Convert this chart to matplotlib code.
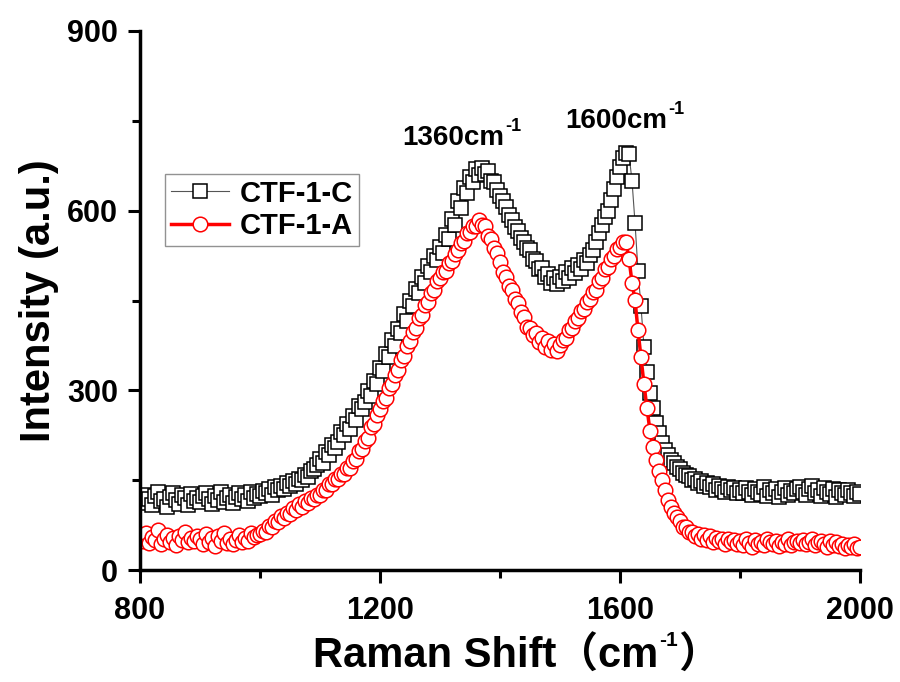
import numpy as np
import matplotlib
matplotlib.use("Agg")
import matplotlib.pyplot as plt
from matplotlib.ticker import MultipleLocator

plt.rcParams['font.family'] = ['Liberation Sans', 'Noto Sans CJK SC', 'DejaVu Sans']
plt.rcParams['font.weight'] = 'bold'

# Raman shift axis (cm^-1), 5 cm^-1 steps
shift = np.arange(800, 2001, 5)

# CTF-1-C intensity
ctf_c = [
    120, 112, 126, 118, 108, 124, 130, 115, 119, 106, 122, 128, 117, 111, 125, 120, 109, 127, 116, 121,
    113, 124, 129, 119, 110, 123, 117, 131, 114, 120, 126, 112, 122, 128, 118, 125, 115, 130, 121, 127,
    124, 132, 128, 135, 126, 138, 133, 140, 136, 145, 141, 148, 144, 152, 150, 158, 156, 165, 168, 176,
    186, 178, 197, 192, 209, 203, 214, 231, 226, 243, 236, 257, 250, 274, 268, 281, 299, 290, 316, 310,
    338, 332, 360, 356, 384, 374, 402, 396, 428, 416, 450, 440, 470, 462, 490, 480, 508, 498, 524, 518,
    540, 530, 560, 552, 586, 576, 616, 604, 638, 630, 656, 648, 670, 660, 672, 662, 666, 650, 648, 634,
    625, 616, 606, 592, 584, 572, 566, 554, 548, 538, 534, 520, 516, 502, 504, 490, 494, 480, 488, 478,
    490, 482, 498, 488, 504, 496, 510, 502, 518, 512, 526, 534, 548, 562, 576, 590, 600, 618, 636, 656,
    673, 688, 697, 694, 650, 580, 500, 440, 372, 330, 295, 270, 245, 228, 212, 200, 192, 184, 178, 172,
    168, 162, 158, 157, 150, 152, 145, 149, 140, 146, 138, 143, 134, 141, 136, 130, 139, 133, 137, 129,
    134, 128, 137, 131, 125, 136, 130, 127, 138, 124, 133, 129, 135, 122, 131, 137, 126, 132, 128, 136,
    139, 130, 126, 135, 141, 128, 133, 124, 137, 131, 127, 136, 122, 134, 129, 125, 133, 128, 124, 131,
    127,
]

# CTF-1-A intensity
ctf_a = [
    58, 48, 62, 45, 55, 50, 66, 44, 52, 59, 47, 54, 41, 57, 50, 63, 46, 53, 49, 56,
    51, 44, 60, 47, 54, 40, 57, 49, 62, 45, 52, 43, 50, 58, 46, 53, 48, 61, 55, 58,
    60, 65, 63, 74, 72, 82, 80, 90, 86, 96, 94, 104, 100, 110, 106, 116, 112, 120, 118, 126,
    126, 134, 134, 144, 144, 152, 152, 160, 160, 170, 170, 182, 186, 198, 202, 216, 220, 238, 244, 258,
    268, 282, 288, 304, 310, 326, 334, 350, 358, 374, 382, 398, 404, 420, 426, 442, 448, 462, 468, 482,
    488, 498, 500, 512, 516, 528, 534, 546, 550, 562, 564, 574, 574, 584, 576, 574, 558, 552, 538, 530,
    514, 498, 490, 474, 468, 452, 446, 430, 422, 406, 404, 392, 396, 380, 388, 372, 382, 368, 378, 366,
    376, 384, 388, 400, 404, 416, 420, 432, 436, 448, 452, 464, 468, 482, 488, 502, 506, 520, 524, 536,
    540, 548, 548, 520, 480, 451, 400, 355, 310, 270, 232, 205, 184, 166, 150, 134, 117, 106, 95, 88,
    82, 72, 71, 63, 64, 57, 60, 52, 58, 50, 56, 47, 54, 49, 52, 44, 51, 46, 50, 43,
    48, 42, 51, 45, 39, 50, 44, 47, 41, 52, 46, 43, 49, 40, 47, 44, 51, 42, 46, 48,
    45, 50, 43, 47, 52, 41, 46, 49, 44, 38, 48, 42, 46, 40, 44, 37, 42, 39, 43, 36,
    38,
]

series_names = ["CTF-1-C", "CTF-1-A"]
# peak annotations: (text, position in data units)
peak_labels = [("1360cm", 1237, 710), ("1600cm", 1508, 738)]

W, H = 900, 682
fig = plt.figure(figsize=(W / 100, H / 100), dpi=100)
ax = fig.add_axes([140 / W, 1 - 570 / H, 720 / W, 539 / H])

ax.plot(shift, ctf_c, color='#555555', lw=0.8, marker='s', ms=9.5,
        mfc='white', mec='black', mew=1.1, label=series_names[0])
ax.plot(shift, ctf_a, color='red', lw=2.5, marker='o', ms=10.5,
        mfc='white', mec='red', mew=1.1, label=series_names[1])

ax.set_xlim(800, 2000)
ax.set_ylim(0, 900)
ax.xaxis.set_major_locator(MultipleLocator(400))
ax.xaxis.set_minor_locator(MultipleLocator(200))
ax.yaxis.set_major_locator(MultipleLocator(300))
ax.yaxis.set_minor_locator(MultipleLocator(150))

for side in ('top', 'right'):
    ax.spines[side].set_visible(False)
for side in ('left', 'bottom'):
    ax.spines[side].set_linewidth(2.5)

ax.tick_params(which='major', direction='out', length=9, width=2.2, labelsize=22)
ax.tick_params(which='minor', direction='out', length=6, width=2.2)
ax.tick_params(axis='x', which='major', pad=10)
ax.tick_params(axis='y', which='major', pad=7)
for lbl in ax.get_xticklabels() + ax.get_yticklabels():
    lbl.set_fontweight('bold')

ax.set_ylabel("Intensity (a.u.)", fontsize=30, fontweight='bold')
ax.yaxis.set_label_coords(-0.112, 0.5)

leg = ax.legend(loc='upper left', bbox_to_anchor=(0.035, 0.735), frameon=True,
                fancybox=False, edgecolor='#777777', fontsize=21,
                handlelength=2.0, handletextpad=0.35, borderpad=0.2,
                labelspacing=0.15, borderaxespad=0.0)
leg.get_frame().set_linewidth(1.0)
for t in leg.get_texts():
    t.set_fontweight('bold')

renderer = fig.canvas.get_renderer()


def label_with_sup(x_px, y_px, base, sup, tail, size, sup_size, rise):
    """Write base text, a raised superscript and an optional tail at a pixel baseline."""
    t1 = fig.text(x_px / W, y_px / H, base, fontsize=size, fontweight='bold',
                  ha='left', va='baseline')
    x1 = t1.get_window_extent(renderer).x1
    t2 = fig.text((x1 + 1) / W, (y_px + rise) / H, sup, fontsize=sup_size,
                  fontweight='bold', ha='left', va='baseline')
    if tail:
        x2 = t2.get_window_extent(renderer).x1
        fig.text(x2 / W, y_px / H, tail, fontsize=size, fontweight='bold',
                 ha='left', va='baseline')


for text, x, y in peak_labels:
    px, py = ax.transData.transform((x, y))
    label_with_sup(px, py, text, "-1", "", 20, 13, 14)

# x axis title
label_with_sup(313, H - 668, "Raman Shift（cm", "-1", "）", 30, 15, 22)

fig.savefig("out.png", dpi=100)
